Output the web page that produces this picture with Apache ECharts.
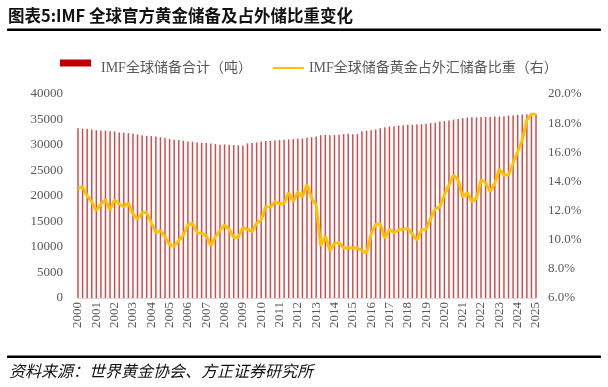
<!DOCTYPE html>
<html><head><meta charset="utf-8">
<script src="https://cdn.jsdelivr.net/npm/echarts@6/dist/echarts.min.js"></script>
<style>html,body{margin:0;padding:0;background:#fff}#c{width:608px;height:387px}</style>
</head><body><div id="c"></div>
<script>
var years = ['2000','2001','2002','2003','2004','2005','2006','2007','2008','2009','2010','2011','2012','2013','2014','2015','2016','2017','2018','2019','2020','2021','2022','2023','2024','2025'];
var quarters = ['Q1','Q2','Q3','Q4'];
var categories = [];
years.forEach(function(y){ quarters.forEach(function(q){ categories.push(y + q); }); });
categories = categories.slice(0, 101);

var reserves = [33300,33170,33170,33040,32910,32845,32780,32715,32650,32455,32390,32325,32195,32065,31935,31805,31740,31675,31545,31350,31155,31025,30960,30830,30700,30635,30505,30440,30375,30310,30180,30050,30115,30050,29985,29920,29920,30310,30375,30505,30700,30765,30830,30895,30960,31025,31090,31155,31220,31280,
31415,31545,31675,31935,32000,31935,31935,32000,32130,32195,32130,32130,32715,32780,32910,33040,33300,33500,33630,33700,33820,33885,33950,33950,34015,34080,34150,34275,34340,34600,34665,34795,34990,35120,35250,35380,35445,35445,35510,35510,35510,35575,35575,35640,35770,35770,35900,35965,36030,36030,36030];

var goldShare = [13.48,13.64,13.0,12.61,11.99,12.45,12.73,12.04,12.73,12.45,12.27,12.54,11.76,11.40,11.85,11.88,11.17,10.48,10.62,10.21,9.64,9.57,9.93,10.32,11.01,11.13,10.48,10.44,10.28,9.57,10.21,10.62,11.01,10.71,10.16,10.16,10.83,10.71,10.55,11.13,11.35,12.27,12.22,12.61,12.45,12.50,13.23,12.61,13.30,12.91,
13.80,12.84,12.38,9.57,10.25,9.25,9.75,9.80,9.43,9.43,9.43,9.43,9.25,9.07,10.39,11.05,11.12,10.09,10.71,10.48,10.67,10.71,10.78,10.39,9.98,10.67,10.71,11.47,12.11,12.27,13.07,13.75,14.44,14.10,12.91,13.23,12.61,12.84,14.10,13.91,13.30,13.87,14.85,14.44,14.44,15.24,16.04,16.84,18.22,18.61,18.61];

var seriesNames = ['IMF全球储备合计（吨）','IMF全球储备黄金占外汇储备比重（右）'];
var titleText = '图表5:IMF 全球官方黄金储备及占外储比重变化';
var sourceText = '资料来源：世界黄金协会、方正证券研究所';

var serif = '"Liberation Serif","Times New Roman","Noto Sans CJK SC",serif';
var chart = echarts.init(document.getElementById('c'));
chart.setOption({
  backgroundColor: '#fff',
  animation: false,
  graphic: [
    {type:'text', left: 8, top: 7, style:{text: titleText, font: 'bold 16.5px "Noto Sans CJK SC", sans-serif', fill:'#111'}},
    {type:'rect', shape:{x:7, y:28.5, width:594, height:2.5}, style:{fill:'#000'}},
    {type:'rect', shape:{x:7, y:355.5, width:594, height:2.5}, style:{fill:'#000'}},
    {type:'rect', shape:{x:60, y:59.5, width:31, height:7}, style:{fill:'#C00000'}},
    {type:'text', left: 9, top: 363, style:{text: sourceText, font: 'italic 16px "Noto Sans CJK SC", sans-serif', fill:'#111'}}
  ],
  legend: {
    top: 56, left: 60, itemGap: 20,
    itemWidth: 31, itemHeight: 7,
    textStyle: {fontFamily: serif, fontSize: 14, color: '#595959'},
    data: [
      {name: seriesNames[0], icon: 'rect', itemStyle: {opacity: 0}},
      {name: seriesNames[1], itemStyle: {opacity: 0}}
    ]
  },
  grid: {left: 78, right: 72, top: 94, bottom: 89},
  xAxis: {
    type: 'category', data: categories, boundaryGap: false,
    axisLine: {lineStyle: {color: '#D9D9D9'}},
    axisTick: {show: false},
    axisLabel: {
      interval: 3, rotate: 90, color: '#595959', fontFamily: serif, fontSize: 13, margin: 4,
      formatter: function(v){ return v.slice(0,4); }
    }
  },
  yAxis: [
    {type:'value', min:0, max:40000, interval:5000,
     splitLine:{show:false}, axisLine:{show:false}, axisTick:{show:false},
     axisLabel:{color:'#595959', fontFamily: serif, fontSize: 13, margin: 15,
       formatter: function(v){ return String(v); }}},
    {type:'value', min:6, max:20, interval:2, position:'right',
     splitLine:{show:false}, axisLine:{show:false}, axisTick:{show:false},
     axisLabel:{color:'#595959', fontFamily: serif, fontSize: 13, margin: 12,
       formatter: function(v){ return v.toFixed(1) + '%'; }}}
  ],
  series: [
    {name: seriesNames[0], type:'bar', data: reserves, barWidth: 1.5,
     itemStyle:{color:'#C00000', opacity: 0.7}},
    {name: seriesNames[1], type:'line', yAxisIndex:1, data: goldShare,
     symbol:'none', lineStyle:{color:'#FFC000', width:3}, itemStyle:{color:'#FFC000'}}
  ]
});
</script></body></html>
